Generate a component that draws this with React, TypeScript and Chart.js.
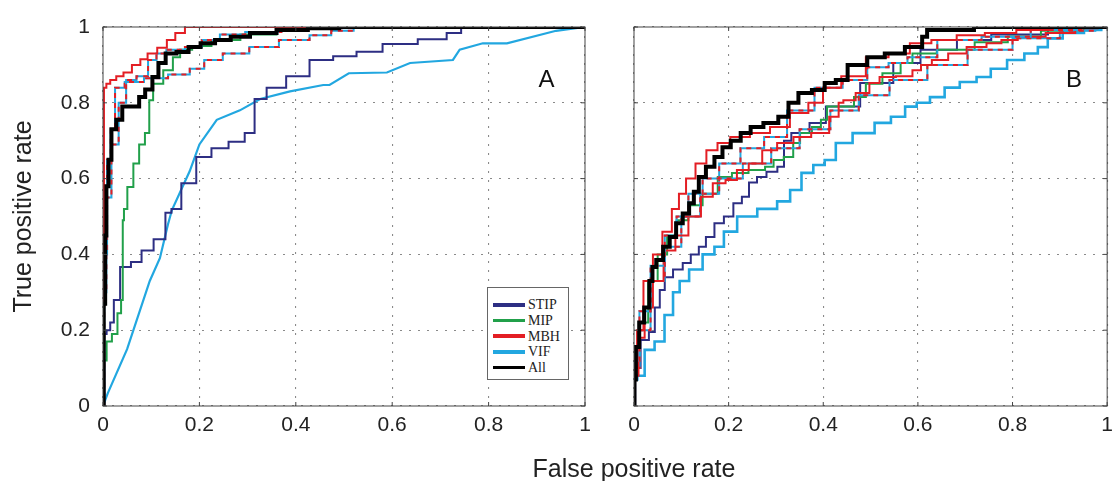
import React, { useEffect, useRef } from "react";
import { Chart, registerables } from "chart.js";

Chart.register(...registerables);

type P = [number, number];

// ---------- axis ticks ----------
const TICK_VALUES = [0, 0.2, 0.4, 0.6, 0.8, 1];
const TICK_LABELS = ["0", "0.2", "0.4", "0.6", "0.8", "1"];

// ---------- legend ----------
const SERIES_NAMES = ["STIP", "MIP", "MBH", "VIF", "All"];
const SERIES_COLORS = ["#2d2e83", "#21a04a", "#e31e24", "#22a7e0", "#000000"];
const [C_STIP, C_MIP, C_MBH, C_VIF, C_ALL] = SERIES_COLORS;

// ---------- panel A (x = false positive rate, y = true positive rate) ----------
const A_ALL: P[] = [[0,0],[0.003,0.27],[0.006,0.45],[0.008,0.58],[0.015,0.65],[0.02,0.73],[0.035,0.755],[0.045,0.79],[0.07,0.79],[0.08,0.815],[0.095,0.835],[0.11,0.868],[0.12,0.905],[0.14,0.93],[0.165,0.934],[0.19,0.947],[0.215,0.957],[0.25,0.966],[0.28,0.974],[0.33,0.984],[0.39,0.992],[0.46,0.997],[0.52,1],[1,1]];
const A_MBH: P[] = [[0,0],[0.004,0.84],[0.01,0.85],[0.02,0.86],[0.035,0.87],[0.05,0.88],[0.07,0.9],[0.085,0.915],[0.1,0.93],[0.125,0.945],[0.14,0.966],[0.16,0.984],[0.18,1],[1,1]];
const A_DASH_HI: P[] = [[0,0],[0.004,0.3],[0.01,0.55],[0.025,0.69],[0.04,0.8],[0.056,0.86],[0.083,0.87],[0.104,0.913],[0.118,0.93],[0.145,0.94],[0.195,0.947],[0.215,0.966],[0.27,0.98],[0.32,0.987],[0.42,0.997],[0.5,1],[1,1]];
const A_DASH_LO: P[] = [[0,0],[0.005,0.4],[0.012,0.65],[0.02,0.73],[0.03,0.84],[0.06,0.855],[0.11,0.865],[0.16,0.875],[0.2,0.89],[0.22,0.913],[0.277,0.93],[0.33,0.947],[0.4,0.966],[0.457,0.978],[0.49,0.99],[0.55,1],[1,1]];
const A_MIP: P[] = [[0,0],[0.003,0.12],[0.012,0.17],[0.025,0.19],[0.035,0.245],[0.04,0.28],[0.042,0.49],[0.045,0.52],[0.056,0.578],[0.07,0.64],[0.08,0.69],[0.094,0.72],[0.098,0.807],[0.11,0.85],[0.14,0.886],[0.15,0.92],[0.17,0.94],[0.2,0.95],[0.25,0.966],[0.32,0.98],[0.4,0.99],[0.45,1],[1,1]];
const A_STIP: P[] = [[0,0],[0.005,0.19],[0.01,0.2],[0.02,0.22],[0.025,0.28],[0.046,0.367],[0.07,0.38],[0.09,0.41],[0.12,0.44],[0.139,0.51],[0.145,0.52],[0.18,0.588],[0.207,0.657],[0.243,0.68],[0.278,0.697],[0.31,0.72],[0.319,0.81],[0.36,0.84],[0.4,0.87],[0.457,0.913],[0.498,0.923],[0.554,0.935],[0.606,0.955],[0.7,0.968],[0.726,0.984],[0.76,1],[1,1]];
const A_VIF: P[] = [[0,0],[0.01,0.034],[0.05,0.15],[0.097,0.33],[0.118,0.39],[0.135,0.48],[0.143,0.517],[0.18,0.62],[0.2,0.69],[0.236,0.755],[0.284,0.78],[0.326,0.81],[0.388,0.83],[0.457,0.847],[0.47,0.847],[0.51,0.878],[0.589,0.88],[0.637,0.905],[0.726,0.913],[0.74,0.94],[0.788,0.957],[0.838,0.957],[0.94,0.99],[1,1]];

// ---------- panel B ----------
const B_ALL: P[] = [[0,0],[0.002,0.07],[0.006,0.156],[0.016,0.22],[0.027,0.26],[0.038,0.33],[0.04,0.367],[0.054,0.385],[0.069,0.42],[0.082,0.446],[0.096,0.482],[0.11,0.508],[0.123,0.535],[0.13,0.565],[0.144,0.604],[0.16,0.631],[0.18,0.657],[0.194,0.683],[0.215,0.7],[0.236,0.72],[0.257,0.736],[0.29,0.747],[0.32,0.763],[0.333,0.8],[0.362,0.826],[0.39,0.834],[0.416,0.852],[0.437,0.86],[0.466,0.9],[0.52,0.92],[0.54,0.93],[0.605,0.947],[0.613,0.974],[0.626,0.992],[0.717,0.992],[0.72,1],[1,1]];
const B_MBH1: P[] = [[0,0],[0.003,0.1],[0.01,0.2],[0.03,0.33],[0.05,0.4],[0.07,0.46],[0.09,0.52],[0.1,0.56],[0.12,0.6],[0.14,0.64],[0.166,0.675],[0.187,0.694],[0.22,0.71],[0.27,0.72],[0.305,0.736],[0.354,0.773],[0.383,0.8],[0.416,0.84],[0.46,0.87],[0.52,0.92],[0.556,0.93],[0.61,0.957],[0.647,0.966],[0.717,0.978],[0.766,0.984],[0.85,0.992],[0.92,1],[1,1]];
const B_DASH1: P[] = [[0,0],[0.003,0.12],[0.02,0.25],[0.05,0.37],[0.08,0.45],[0.1,0.5],[0.13,0.56],[0.16,0.6],[0.2,0.64],[0.25,0.68],[0.3,0.71],[0.347,0.78],[0.416,0.84],[0.466,0.86],[0.52,0.894],[0.556,0.905],[0.6,0.92],[0.682,0.966],[0.787,0.974],[0.89,0.992],[1,1]];
const B_MBH2: P[] = [[0,0],[0.004,0.08],[0.015,0.18],[0.03,0.26],[0.05,0.33],[0.075,0.41],[0.1,0.45],[0.13,0.5],[0.153,0.552],[0.18,0.588],[0.207,0.596],[0.228,0.623],[0.257,0.64],[0.285,0.675],[0.32,0.694],[0.354,0.71],[0.395,0.72],[0.43,0.763],[0.435,0.8],[0.45,0.807],[0.487,0.826],[0.508,0.852],[0.53,0.868],[0.577,0.87],[0.6,0.886],[0.613,0.9],[0.646,0.913],[0.682,0.93],[0.724,0.947],[0.766,0.957],[0.787,0.966],[0.835,0.974],[0.905,0.984],[0.96,0.997],[1,1]];
const B_DASH2: P[] = [[0,0],[0.004,0.1],[0.02,0.2],[0.05,0.33],[0.08,0.42],[0.12,0.5],[0.16,0.56],[0.2,0.6],[0.26,0.64],[0.32,0.68],[0.38,0.73],[0.45,0.78],[0.5,0.82],[0.58,0.86],[0.66,0.9],[0.75,0.94],[0.85,0.97],[0.95,0.99],[1,1]];
const B_MIP: P[] = [[0,0],[0.004,0.12],[0.02,0.22],[0.04,0.33],[0.06,0.4],[0.08,0.45],[0.1,0.49],[0.13,0.53],[0.16,0.56],[0.194,0.604],[0.22,0.615],[0.264,0.623],[0.29,0.631],[0.3,0.649],[0.333,0.657],[0.34,0.694],[0.362,0.72],[0.39,0.736],[0.4,0.755],[0.416,0.79],[0.45,0.79],[0.48,0.815],[0.5,0.85],[0.55,0.878],[0.577,0.905],[0.6,0.93],[0.68,0.94],[0.76,0.96],[0.82,0.975],[0.9,0.99],[1,1]];
const B_STIP: P[] = [[0,0],[0.005,0.1],[0.023,0.174],[0.04,0.195],[0.048,0.26],[0.061,0.306],[0.069,0.34],[0.096,0.36],[0.11,0.377],[0.13,0.4],[0.144,0.42],[0.16,0.446],[0.18,0.482],[0.2,0.5],[0.22,0.535],[0.236,0.552],[0.25,0.59],[0.27,0.604],[0.29,0.618],[0.316,0.631],[0.318,0.7],[0.347,0.72],[0.395,0.747],[0.416,0.79],[0.54,0.852],[0.556,0.905],[0.655,0.94],[0.71,0.966],[0.8,0.98],[0.95,1],[1,1]];
const B_VIF: P[] = [[0,0],[0.002,0.07],[0.012,0.08],[0.033,0.148],[0.054,0.17],[0.075,0.24],[0.09,0.3],[0.103,0.33],[0.13,0.36],[0.16,0.4],[0.18,0.42],[0.2,0.46],[0.236,0.5],[0.285,0.52],[0.32,0.54],[0.34,0.57],[0.368,0.615],[0.39,0.636],[0.416,0.649],[0.437,0.694],[0.487,0.72],[0.53,0.747],[0.556,0.763],[0.59,0.79],[0.605,0.8],[0.646,0.815],[0.667,0.84],[0.71,0.855],[0.738,0.868],[0.77,0.89],[0.807,0.913],[0.843,0.93],[0.864,0.947],[0.885,0.97],[0.927,0.984],[0.975,0.992],[1,1]];

const SANS = "'Liberation Sans', Arial, Helvetica, sans-serif";
const SERIF = "'Liberation Serif', 'Times New Roman', serif";

function line(data: P[], color: string, width: number, extra: any = {}) {
  return {
    data: data.map(([x, y]) => ({ x, y })),
    borderColor: color,
    backgroundColor: color,
    borderWidth: width,
    pointRadius: 0,
    fill: false,
    tension: 0,
    stepped: "middle",
    ...extra,
  };
}

function dashed(data: P[]) {
  return [
    line(data, C_MBH, 2, { borderDash: [5, 5] }),
    line(data, C_VIF, 2),
  ];
}

const DATASETS_A = [
  line(A_ALL, C_ALL, 4),
  line(A_MBH, C_MBH, 2),
  ...dashed(A_DASH_HI),
  ...dashed(A_DASH_LO),
  line(A_MIP, C_MIP, 2),
  line(A_STIP, C_STIP, 2),
  line(A_VIF, C_VIF, 2.2, { stepped: false }),
];

const DATASETS_B = [
  line(B_ALL, C_ALL, 4),
  line(B_MBH1, C_MBH, 2),
  ...dashed(B_DASH1),
  line(B_MBH2, C_MBH, 2),
  ...dashed(B_DASH2),
  line(B_MIP, C_MIP, 2),
  line(B_STIP, C_STIP, 2),
  line(B_VIF, C_VIF, 2.6),
];

const framePlugin = {
  id: "frame",
  afterDraw(chart: any, _args: any, opts: any) {
    const { ctx, chartArea: a, scales } = chart;
    ctx.save();
    ctx.strokeStyle = "#444";
    ctx.lineWidth = 1;
    ctx.setLineDash([]);
    ctx.strokeRect(a.left, a.top, a.right - a.left, a.bottom - a.top);
    const tl = 4;
    ctx.beginPath();
    TICK_VALUES.forEach((v) => {
      const px = scales.x.getPixelForValue(v);
      const py = scales.y.getPixelForValue(v);
      ctx.moveTo(px, a.bottom);
      ctx.lineTo(px, a.bottom - tl);
      ctx.moveTo(px, a.top);
      ctx.lineTo(px, a.top + tl);
      ctx.moveTo(a.left, py);
      ctx.lineTo(a.left + tl, py);
      ctx.moveTo(a.right, py);
      ctx.lineTo(a.right - tl, py);
    });
    ctx.stroke();
    if (opts && opts.letter) {
      ctx.fillStyle = "#111";
      ctx.font = `24px ${SANS}`;
      ctx.textAlign = "center";
      ctx.textBaseline = "middle";
      ctx.fillText(
        opts.letter,
        scales.x.getPixelForValue(opts.lx),
        scales.y.getPixelForValue(opts.ly)
      );
    }
    ctx.restore();
  },
};

function tickLabel(v: number) {
  const i = TICK_VALUES.findIndex((t) => Math.abs(t - v) < 1e-6);
  return i >= 0 ? TICK_LABELS[i] : "";
}

function makeScale(axis: "x" | "y", showLabels: boolean, size: number, title?: string) {
  const s: any = {
    type: "linear",
    min: 0,
    max: 1,
    afterBuildTicks: (sc: any) => {
      sc.ticks = TICK_VALUES.map((value) => ({ value }));
    },
    ticks: {
      display: showLabels,
      autoSkip: false,
      maxRotation: 0,
      color: "#222",
      font: { family: SANS, size: 21 },
      padding: axis === "x" ? 7 : 13,
      callback: (v: any) => tickLabel(Number(v)),
    },
    grid: { color: "#8a8a8a", lineWidth: 1.1, drawTicks: false },
    border: { display: false, dash: [2, 7] },
    afterFit: (sc: any) => {
      if (axis === "x") sc.height = size;
      else sc.width = size;
    },
  };
  if (title) {
    s.title = {
      display: true,
      text: title,
      color: "#222",
      font: { family: SANS, size: 25 },
      padding: { top: 9, bottom: 0 },
    };
  }
  return s;
}

function Panel(props: {
  left: number;
  width: number;
  datasets: any[];
  yWidth: number;
  rightPad: number;
  showY: boolean;
  yTitle?: string;
  letter: string;
  lx: number;
  ly: number;
}) {
  const ref = useRef<HTMLCanvasElement | null>(null);
  useEffect(() => {
    if (!ref.current) return;
    const chart = new Chart(ref.current, {
      type: "line",
      data: { datasets: props.datasets as any },
      options: {
        responsive: false,
        animation: false,
        layout: { padding: { top: 27, right: props.rightPad, left: 0, bottom: 0 } },
        plugins: {
          legend: { display: false },
          tooltip: { enabled: false },
          frame: { letter: props.letter, lx: props.lx, ly: props.ly },
        } as any,
        scales: {
          x: makeScale("x", true, 75),
          y: makeScale("y", props.showY, props.yWidth, props.yTitle),
        },
      },
      plugins: [framePlugin],
    });
    return () => chart.destroy();
  }, []);
  return (
    <canvas
      ref={ref}
      width={props.width}
      height={481}
      style={{ position: "absolute", left: props.left, top: 0, width: props.width, height: 481 }}
    />
  );
}

function Legend() {
  return (
    <div
      style={{
        position: "absolute",
        left: 487,
        top: 287,
        width: 82,
        height: 93,
        boxSizing: "border-box",
        border: "1px solid #666",
        background: "#fff",
        paddingTop: 9,
      }}
    >
      {SERIES_NAMES.map((name, i) => (
        <div
          key={name}
          style={{ display: "flex", alignItems: "center", height: 15.7, marginLeft: 5 }}
        >
          <span
            style={{
              display: "inline-block",
              width: 32,
              height: 3.5,
              background: SERIES_COLORS[i],
              marginRight: 3,
            }}
          />
          <span style={{ fontFamily: SERIF, fontSize: 14, color: "#222", lineHeight: "15px" }}>
            {name}
          </span>
        </div>
      ))}
    </div>
  );
}

export default function App() {
  useEffect(() => {
    document.body.style.margin = "0";
  }, []);
  return (
    <div
      style={{
        position: "absolute",
        left: 0,
        top: 0,
        width: 1120,
        height: 481,
        overflow: "hidden",
        background: "#fff",
      }}
    >
      <Panel
        left={0}
        width={600}
        datasets={DATASETS_A}
        yWidth={103}
        rightPad={15}
        showY={true}
        yTitle="True positive rate"
        letter="A"
        lx={0.92}
        ly={0.86}
      />
      <Panel
        left={600}
        width={520}
        datasets={DATASETS_B}
        yWidth={34}
        rightPad={8}
        showY={false}
        letter="B"
        lx={0.93}
        ly={0.86}
      />
      <Legend />
      <div
        style={{
          position: "absolute",
          left: 434,
          top: 455,
          width: 400,
          textAlign: "center",
          fontFamily: SANS,
          fontSize: 25,
          lineHeight: "26px",
          color: "#222",
        }}
      >
        False positive rate
      </div>
    </div>
  );
}
